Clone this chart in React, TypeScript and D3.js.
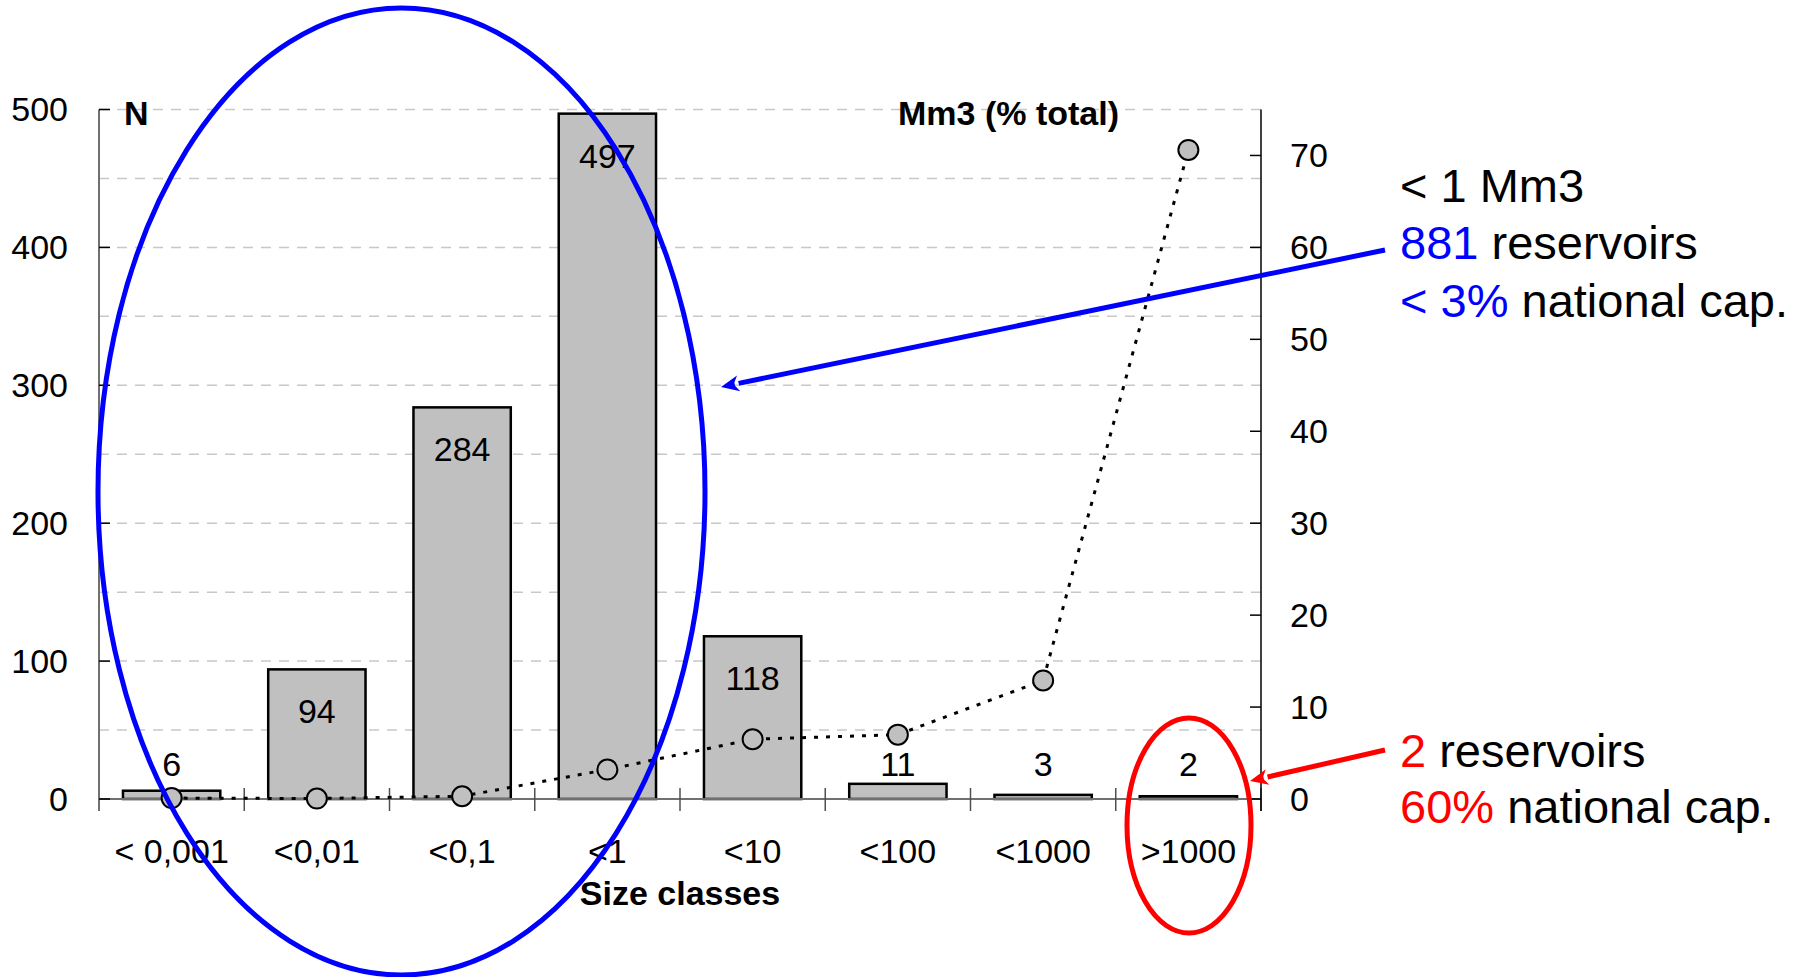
import React from "react";
import * as d3 from "d3";

// Reservoir size classes (Mm3) with reservoir counts and share of total volume
const categories = ["< 0,001", "<0,01", "<0,1", "<1", "<10", "<100", "<1000", ">1000"];
const counts = [6, 94, 284, 497, 118, 11, 3, 2];
const volumeShare = [0.1, 0.05, 0.3, 3.2, 6.5, 7.0, 12.9, 70.6];
const leftTicks = [0, 100, 200, 300, 400, 500];
const rightTicks = [0, 10, 20, 30, 40, 50, 60, 70];
const gridValues = [50, 100, 150, 200, 250, 300, 350, 400, 450, 500];

const W = 1806;
const H = 977;
const FONT = "'Liberation Sans', Arial, Helvetica, sans-serif";
const BAR_FILL = "#c0c0c0";

const plotLeft = 99;
const plotRight = 1261;
const plotBottom = 799;
const plotTop = 109.5;

export default function App() {
  const x = d3
    .scaleBand<string>()
    .domain(categories)
    .range([plotLeft, plotRight])
    .paddingInner(0.33)
    .paddingOuter(0.165);
  const step = x.step();
  const bandStart = (i: number) => plotLeft + i * step;
  const center = (c: string) => (x(c) as number) + x.bandwidth() / 2;

  const yLeft = d3.scaleLinear().domain([0, 500]).range([plotBottom, plotTop]);
  const yRight = d3.scaleLinear().domain([0, 75]).range([plotBottom, plotTop]);

  const line = d3
    .line<number>()
    .x((_, i) => center(categories[i]))
    .y((d) => yRight(d))
    .curve(d3.curveLinear);

  const arrow = (
    x1: number,
    y1: number,
    x2: number,
    y2: number,
    color: string
  ) => {
    const ang = Math.atan2(y2 - y1, x2 - x1);
    const len = 18;
    const half = 8;
    const bx = x2 - len * Math.cos(ang);
    const by = y2 - len * Math.sin(ang);
    const px = -Math.sin(ang) * half;
    const py = Math.cos(ang) * half;
    return (
      <g>
        <line x1={x1} y1={y1} x2={bx} y2={by} stroke={color} strokeWidth={5} />
        <path
          d={`M${x2},${y2}L${bx + px},${by + py}L${bx + px * 0.2 + Math.cos(ang) * 4},${by + py * 0.2 + Math.sin(ang) * 4}L${bx - px * 0.2 + Math.cos(ang) * 4},${by - py * 0.2 + Math.sin(ang) * 4}L${bx - px},${by - py}Z`}
          fill={color}
        />
      </g>
    );
  };

  return (
    <svg
      width={W}
      height={H}
      style={{ position: "absolute", left: 0, top: 0, background: "#fff" }}
      fontFamily={FONT}
    >
      {/* horizontal dashed gridlines */}
      {gridValues.map((v) => (
        <line
          key={"g" + v}
          x1={plotLeft}
          x2={plotRight}
          y1={yLeft(v)}
          y2={yLeft(v)}
          stroke="#c8c8c8"
          strokeWidth={1.5}
          strokeDasharray="10 8"
        />
      ))}

      {/* bars */}
      {categories.map((c, i) => (
        <rect
          key={"b" + c}
          x={x(c)}
          y={yLeft(counts[i])}
          width={x.bandwidth()}
          height={plotBottom - yLeft(counts[i])}
          fill={BAR_FILL}
          stroke="#000"
          strokeWidth={2.5}
        />
      ))}

      {/* x axis */}
      <line x1={plotLeft} x2={plotRight} y1={plotBottom} y2={plotBottom} stroke="#707070" strokeWidth={2} />
      {d3.range(categories.length + 1).map((i) => (
        <line
          key={"xt" + i}
          x1={bandStart(i)}
          x2={bandStart(i)}
          y1={plotBottom - 11}
          y2={plotBottom + 12}
          stroke="#505050"
          strokeWidth={1.5}
        />
      ))}
      {categories.map((c) => (
        <text key={"xl" + c} x={center(c)} y={863} fontSize={34} textAnchor="middle" fill="#000">
          {c}
        </text>
      ))}

      {/* left axis */}
      <line x1={plotLeft} x2={plotLeft} y1={plotTop} y2={plotBottom + 12} stroke="#707070" strokeWidth={2} />
      {leftTicks.map((t) => (
        <g key={"lt" + t}>
          <line x1={plotLeft} x2={plotLeft + 11} y1={yLeft(t)} y2={yLeft(t)} stroke="#000" strokeWidth={1.5} />
          <text x={68} y={yLeft(t)} dy="0.35em" fontSize={34} textAnchor="end" fill="#000">
            {t}
          </text>
        </g>
      ))}

      {/* right axis */}
      <line x1={plotRight} x2={plotRight} y1={plotTop} y2={plotBottom + 12} stroke="#000" strokeWidth={1.5} />
      {rightTicks.map((t) => (
        <g key={"rt" + t}>
          <line x1={plotRight - 11} x2={plotRight} y1={yRight(t)} y2={yRight(t)} stroke="#000" strokeWidth={1.5} />
          <text x={plotRight + 29} y={yRight(t)} dy="0.35em" fontSize={34} textAnchor="start" fill="#000">
            {t}
          </text>
        </g>
      ))}

      {/* axis titles */}
      <text x={124} y={125} fontSize={34} fontWeight="bold" fill="#000">
        N
      </text>
      <text x={898} y={125} fontSize={34} fontWeight="bold" fill="#000">
        Mm3 (% total)
      </text>
      <text x={(plotLeft + plotRight) / 2} y={905} fontSize={34} fontWeight="bold" textAnchor="middle" fill="#000">
        Size classes
      </text>

      {/* bar value labels */}
      {categories.map((c, i) => {
        const v = counts[i];
        const inside = v > 50;
        const yPos = inside ? yLeft(v) + 54 : yLeft(0) - 23;
        return (
          <text key={"bl" + c} x={center(c)} y={yPos} fontSize={34} textAnchor="middle" fill="#000">
            {v}
          </text>
        );
      })}

      {/* volume share line */}
      <path
        d={line(volumeShare) || ""}
        fill="none"
        stroke="#000"
        strokeWidth={3}
        strokeDasharray="4 8"
      />
      {volumeShare.map((v, i) => (
        <circle
          key={"p" + i}
          cx={center(categories[i])}
          cy={yRight(v)}
          r={10}
          fill={BAR_FILL}
          stroke="#000"
          strokeWidth={2}
        />
      ))}

      {/* highlight ellipses */}
      <ellipse cx={401.5} cy={491.5} rx={303.5} ry={483.5} fill="none" stroke="#0000ff" strokeWidth={5} />
      <ellipse cx={1189} cy={825.5} rx={62} ry={107.5} fill="none" stroke="#ff0000" strokeWidth={5} />

      {/* callout arrows */}
      {arrow(1385, 250, 721, 387, "#0000ff")}
      {arrow(1385, 750, 1250, 781, "#ff0000")}

      {/* callout text */}
      <g fontSize={47}>
        <text x={1400} y={201.7} fill="#000">
          {"< 1 Mm3"}
        </text>
        <text x={1400} y={259} fill="#000">
          <tspan fill="#0000ff">881</tspan> reservoirs
        </text>
        <text x={1400} y={316.7} fill="#000">
          <tspan fill="#0000ff">{"< 3%"}</tspan> national cap.
        </text>
        <text x={1400} y={766.7} fill="#000">
          <tspan fill="#ff0000">2</tspan> reservoirs
        </text>
        <text x={1400} y={823} fill="#000">
          <tspan fill="#ff0000">60%</tspan> national cap.
        </text>
      </g>
    </svg>
  );
}
